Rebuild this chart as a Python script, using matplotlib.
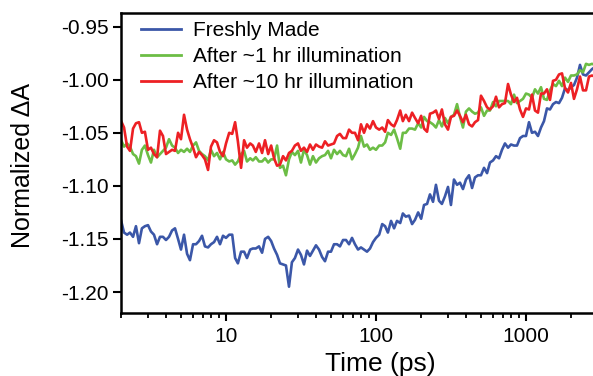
import matplotlib
matplotlib.use("Agg")
import matplotlib.pyplot as plt
from matplotlib.ticker import LogLocator, NullFormatter, FixedLocator

plt.rcParams['font.family'] = ['Liberation Sans', 'DejaVu Sans']

time_ps = [2.00, 2.09, 2.19, 2.29, 2.40, 2.51, 2.63, 2.75, 2.88, 3.02, 3.16, 3.31, 3.47, 3.63, 3.80,
           3.98, 4.17, 4.37, 4.57, 4.79, 5.01, 5.25, 5.50, 5.75, 6.03, 6.31, 6.61, 6.92, 7.24, 7.59,
           7.94, 8.32, 8.71, 9.12, 9.55,
           10.0, 10.5, 11.0, 11.5, 12.0, 12.6, 13.2, 13.8, 14.5, 15.1, 15.8, 16.6, 17.4, 18.2, 19.1,
           20.0, 20.9, 21.9, 22.9, 24.0, 25.1, 26.3, 27.5, 28.8, 30.2, 31.6, 33.1, 34.7, 36.3, 38.0,
           39.8, 41.7, 43.7, 45.7, 47.9, 50.1, 52.5, 55.0, 57.5, 60.3, 63.1, 66.1, 69.2, 72.4, 75.9,
           79.4, 83.2, 87.1, 91.2, 95.5,
           100, 105, 110, 115, 120, 126, 132, 138, 145, 151, 158, 166, 174, 182, 191,
           200, 209, 219, 229, 240, 251, 263, 275, 288, 302, 316, 331, 347, 363, 380,
           398, 417, 437, 457, 479, 501, 525, 550, 575, 603, 631, 661, 692, 724, 759,
           794, 832, 871, 912, 955,
           1000, 1047, 1096, 1148, 1202, 1259, 1318, 1380, 1445, 1514, 1585, 1660, 1738, 1820, 1905,
           1995, 2089, 2188, 2291, 2399, 2512, 2630, 2754, 2884]

freshly_made = [-1.133, -1.144, -1.146, -1.144, -1.148, -1.138, -1.154, -1.140, -1.138, -1.137,
                -1.143, -1.146, -1.155, -1.148, -1.148, -1.151, -1.148, -1.142, -1.140, -1.150,
                -1.160, -1.146, -1.164, -1.170, -1.155, -1.155, -1.152, -1.147, -1.157, -1.158,
                -1.155, -1.153, -1.148, -1.155, -1.147, -1.149, -1.146, -1.146, -1.168, -1.173,
                -1.162, -1.162, -1.168, -1.160, -1.159, -1.159, -1.157, -1.163, -1.150, -1.148,
                -1.152, -1.159, -1.165, -1.173, -1.174, -1.175, -1.195, -1.172, -1.168, -1.160,
                -1.165, -1.174, -1.161, -1.166, -1.161, -1.156, -1.160, -1.167, -1.171, -1.162,
                -1.162, -1.155, -1.155, -1.157, -1.151, -1.151, -1.155, -1.149, -1.155, -1.160,
                -1.158, -1.160, -1.162, -1.159, -1.153, -1.149, -1.146, -1.136, -1.138, -1.144,
                -1.133, -1.140, -1.133, -1.135, -1.126, -1.129, -1.128, -1.136, -1.132, -1.125,
                -1.131, -1.118, -1.117, -1.108, -1.115, -1.099, -1.114, -1.117, -1.110, -1.101,
                -1.118, -1.094, -1.099, -1.097, -1.103, -1.094, -1.090, -1.102, -1.092, -1.090,
                -1.090, -1.083, -1.088, -1.078, -1.076, -1.072, -1.074, -1.066, -1.060, -1.064,
                -1.061, -1.062, -1.062, -1.055, -1.053, -1.053, -1.040, -1.050, -1.049, -1.053,
                -1.045, -1.039, -1.027, -1.028, -1.023, -1.021, -1.022, -1.017, -1.008, -1.010,
                -1.007, -1.005, -0.998, -0.986, -0.995, -0.996, -0.993, -0.990, -0.988]

after_1hr = [-1.057, -1.063, -1.060, -1.063, -1.070, -1.072, -1.079, -1.066, -1.062, -1.071,
             -1.078, -1.066, -1.073, -1.070, -1.067, -1.064, -1.056, -1.062, -1.064, -1.069,
             -1.066, -1.068, -1.065, -1.068, -1.062, -1.059, -1.067, -1.070, -1.072, -1.076,
             -1.066, -1.072, -1.069, -1.075, -1.068, -1.075, -1.077, -1.076, -1.080, -1.077,
             -1.070, -1.067, -1.077, -1.074, -1.076, -1.073, -1.077, -1.077, -1.074, -1.078,
             -1.075, -1.075, -1.062, -1.083, -1.081, -1.090, -1.075, -1.068, -1.071, -1.067,
             -1.078, -1.066, -1.071, -1.080, -1.072, -1.078, -1.074, -1.072, -1.071, -1.067,
             -1.074, -1.066, -1.070, -1.067, -1.071, -1.072, -1.065, -1.075, -1.070, -1.064,
             -1.053, -1.063, -1.061, -1.066, -1.064, -1.066, -1.062, -1.062, -1.059, -1.050,
             -1.052, -1.047, -1.055, -1.065, -1.050, -1.050, -1.046, -1.046, -1.047, -1.041,
             -1.045, -1.035, -1.039, -1.040, -1.042, -1.045, -1.038, -1.044, -1.036, -1.041,
             -1.035, -1.033, -1.023, -1.035, -1.045, -1.030, -1.027, -1.030, -1.032, -1.031,
             -1.026, -1.034, -1.029, -1.029, -1.021, -1.025, -1.020, -1.020, -1.020, -1.020,
             -1.023, -1.014, -1.022, -1.020, -1.018, -1.013, -1.014, -1.017, -1.009, -1.013,
             -1.007, -1.018, -1.019, -1.010, -1.004, -1.006, -1.001, -1.006, -0.998, -1.002,
             -0.996, -0.996, -0.995, -0.991, -0.993, -0.985, -0.986, -0.985, -0.986]

after_10hr = [-1.039, -1.045, -1.063, -1.067, -1.046, -1.041, -1.040, -1.050, -1.049, -1.066,
              -1.064, -1.070, -1.073, -1.048, -1.053, -1.070, -1.068, -1.066, -1.067, -1.050,
              -1.056, -1.033, -1.047, -1.056, -1.064, -1.073, -1.068, -1.071, -1.075, -1.085,
              -1.063, -1.057, -1.059, -1.068, -1.072, -1.060, -1.050, -1.051, -1.040, -1.058,
              -1.083, -1.057, -1.064, -1.060, -1.062, -1.068, -1.060, -1.069, -1.057, -1.070,
              -1.062, -1.074, -1.081, -1.080, -1.072, -1.076, -1.069, -1.067, -1.062, -1.060,
              -1.067, -1.064, -1.068, -1.061, -1.066, -1.061, -1.063, -1.064, -1.058, -1.062,
              -1.061, -1.060, -1.053, -1.051, -1.055, -1.055, -1.047, -1.050, -1.050, -1.057,
              -1.042, -1.050, -1.042, -1.046, -1.039, -1.045, -1.047, -1.045, -1.049, -1.038,
              -1.042, -1.044, -1.038, -1.029, -1.039, -1.033, -1.039, -1.031, -1.036, -1.041,
              -1.034, -1.046, -1.049, -1.032, -1.031, -1.029, -1.037, -1.028, -1.042, -1.047,
              -1.035, -1.034, -1.029, -1.034, -1.040, -1.033, -1.042, -1.044, -1.040, -1.038,
              -1.015, -1.020, -1.026, -1.028, -1.025, -1.016, -1.026, -1.023, -1.022, -1.004,
              -1.014, -1.021, -1.017, -1.028, -1.035, -1.027, -1.028, -1.014, -1.029, -1.031,
              -1.013, -1.013, -1.009, -1.019, -1.001, -1.000, -0.995, -0.994, -1.008, -1.012,
              -1.003, -1.018, -1.009, -0.997, -1.010, -1.010, -0.997, -0.996, -0.997]

series_labels = ["Freshly Made", "After ~1 hr illumination", "After ~10 hr illumination"]
series_colors = ["#3b57a8", "#6cbd45", "#ed2024"]
y_ticks = [-0.95, -1.00, -1.05, -1.10, -1.15, -1.20]
x_ticks = [10, 100, 1000]

fig = plt.figure(figsize=(5.93, 3.76), dpi=100)
ax = fig.add_axes([121/593, 1 - 312.7/376, 1 - 121/593, (312.7 - 13)/376])

for vals, lab, col in zip([freshly_made, after_1hr, after_10hr], series_labels, series_colors):
    ax.plot(time_ps, vals, color=col, lw=1.9, label=lab)

ax.set_xscale('log')
ax.set_xlim(1.995, 2797)
ax.set_ylim(-1.2195, -0.9371)
ax.set_yticks(y_ticks)
ax.set_yticklabels([f"{v:.2f}" for v in y_ticks])
ax.xaxis.set_major_locator(FixedLocator(x_ticks))
ax.set_xticklabels([str(v) for v in x_ticks])
ax.xaxis.set_minor_locator(LogLocator(base=10, subs=range(2, 10)))
ax.xaxis.set_minor_formatter(NullFormatter())

for s in ['left', 'top', 'bottom']:
    ax.spines[s].set_linewidth(1.8)
ax.spines['right'].set_visible(False)
ax.tick_params(axis='y', which='major', direction='out', length=6, width=1.5, labelsize=15, pad=3)
ax.tick_params(axis='x', which='major', direction='out', length=6, width=1.5, labelsize=15, pad=4)
ax.tick_params(axis='x', which='minor', direction='out', length=3.5, width=1.3)

ax.set_xlabel("Time (ps)", fontsize=19)
ax.xaxis.set_label_coords((380 - 121)/472, -0.13)
ax.set_ylabel("Normalized ΔA", fontsize=18)
ax.yaxis.set_label_coords(-(121 - 35)/472, 0.49)

leg = ax.legend(loc='upper left', frameon=False, fontsize=15, handlelength=1.9,
                handletextpad=0.6, labelspacing=0.33, borderaxespad=0.0,
                bbox_to_anchor=(0.025, 1.0))
for h in leg.get_lines():
    h.set_linewidth(2.0)

fig.savefig("out.png", dpi=100)
